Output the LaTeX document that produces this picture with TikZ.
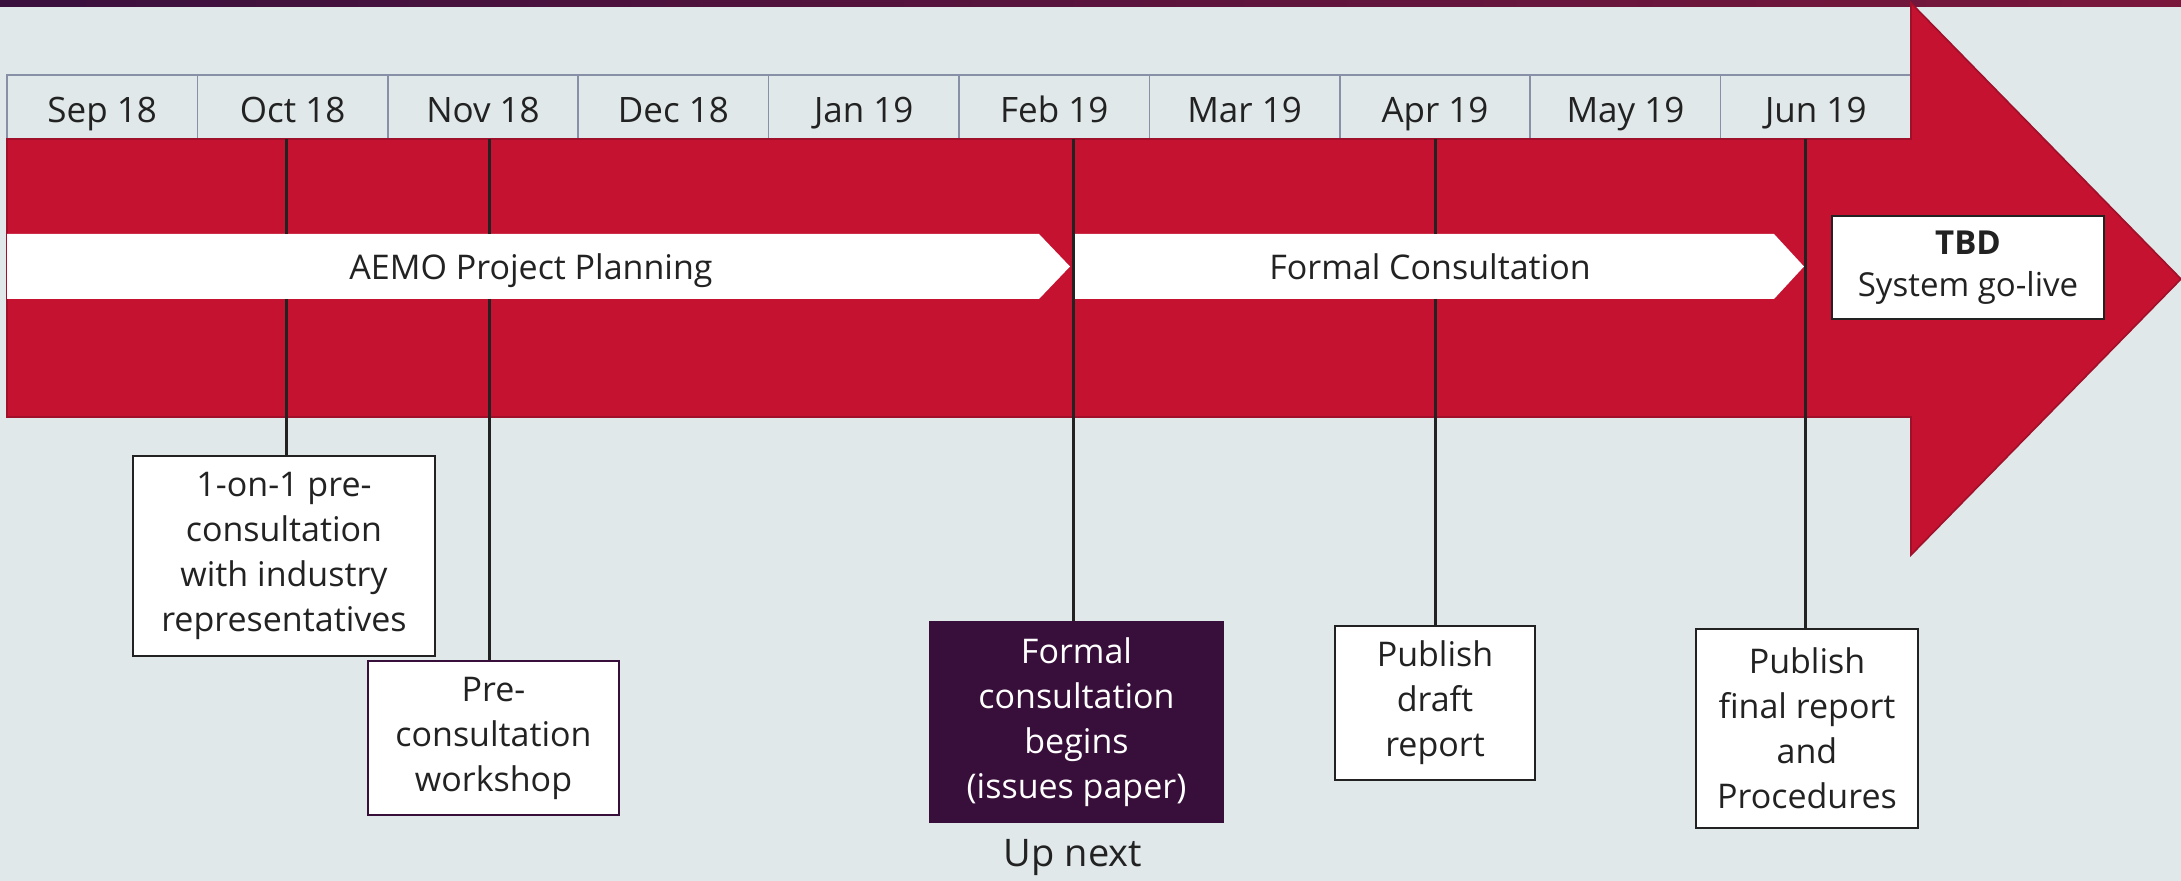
\documentclass[tikz,border=0pt]{standalone}
\usepackage{fontspec}
\setmainfont{Open Sans}
\usetikzlibrary{calc}

\definecolor{pagebg}{RGB}{224,232,234}
\definecolor{bandleft}{RGB}{58,16,62}
\definecolor{bandright}{RGB}{122,24,60}
\definecolor{arrowred}{RGB}{196,18,48}
\definecolor{arrowedge}{RGB}{160,16,42}
\definecolor{gridline}{RGB}{136,144,168}
\definecolor{inkdark}{RGB}{34,34,34}
\definecolor{plum}{RGB}{56,14,58}

\begin{document}
\begin{tikzpicture}[x=0.5pt,y=0.5pt,yscale=-1,xscale=1,
    month/.style={draw=gridline,line width=0.8,minimum width=95.2pt,minimum height=32pt,inner sep=0pt,text height=18pt,text depth=2.3pt,text=inkdark,font=\fontsize{17.5}{20}\selectfont},
    stem/.style={draw=inkdark,line width=1.5},
    phase/.style={inner sep=0pt,anchor=base,text=inkdark,font=\fontsize{17}{20}\selectfont},
    event/.style={draw=inkdark,fill=white,line width=1,inner sep=0pt,align=center,text=inkdark,font=\fontsize{17}{22.5}\selectfont},
    ]
    %Background
    \fill[pagebg] (0,0) rectangle (2181,881);
    \useasboundingbox (0,0) rectangle (2181,881);
    %Shape: Top band
    \shade[left color=bandleft,right color=bandright] (0,0) rectangle (2181,7);
    %Month header
    \foreach \mon [count=\i from 0] in {Sep 18,Oct 18,Nov 18,Dec 18,Jan 19,Feb 19,Mar 19,Apr 19,May 19,Jun 19}
        \node[month] (mon\i) at ({7+190.4*(\i+0.5)},107) {\mon};
    %Shape: Block arrow
    \filldraw[fill=arrowred,draw=arrowedge,line width=0.8] (7,139) -- (1911,139) -- (1911,3) -- (2181,279) -- (1911,555) -- (1911,417) -- (7,417) -- cycle ;
    %Milestone stems
    \coordinate (oct) at (286,139);
    \coordinate (nov) at (489,139);
    \coordinate (feb) at (1073,139);
    \coordinate (apr) at (1435,139);
    \coordinate (jun) at (1805,139);
    %Shape: Chevrons
    \fill[white] (7,234) -- (1039,234) -- (1070,266.5) -- (1039,299) -- (7,299) -- cycle ;
    \fill[white] (1075,234) -- (1774,234) -- (1804,266.5) -- (1774,299) -- (1075,299) -- cycle ;
    \node[phase] (planning) at (531,280) {AEMO Project Planning};
    \node[phase] (formal) at (1430,280) {Formal Consultation};
    %Events
    \node[event,minimum width=151pt,minimum height=100pt] (ev1) at (284,556) {1-on-1 pre-\\consultation\\with industry\\representatives};
    \node[event,draw=plum,minimum width=125.5pt,minimum height=77pt] (ev2) at (493.5,738) {Pre-\\consultation\\workshop};
    \node[event,draw=plum,fill=plum,text=white,minimum width=146.5pt,minimum height=100pt] (ev3) at (1076.5,722) {Formal\\consultation\\begins\\(issues paper)};
    \node[event,minimum width=100pt,minimum height=77pt] (ev4) at (1435,703) {Publish\\draft\\report};
    \node[event,minimum width=111pt,minimum height=99.5pt] (ev5) at (1807,728.5) {Publish\\final report\\and\\Procedures};
    \node[event,minimum width=136pt,minimum height=51.5pt,font=\fontsize{16.5}{21}\selectfont] (golive) at (1968,267.5) {\textbf{TBD}\\System go-live};
    \node[text=inkdark,font=\fontsize{19}{23}\selectfont] (upnext) at (1073,858) {Up next};
    %Straight Lines
    \draw[stem] (oct) -- (oct |- 0,234) ;
    \draw[stem] (nov) -- (nov |- 0,234) ;
    \draw[stem] (apr) -- (apr |- 0,234) ;
    \draw[stem] (oct |- 0,299) -- (oct |- ev1.north) ;
    \draw[stem] (nov |- 0,299) -- (nov |- ev2.north) ;
    \draw[stem] (apr |- 0,299) -- (apr |- ev4.north) ;
    \draw[stem] (feb) -- (feb |- ev3.north) ;
    \draw[stem] (jun) -- (jun |- ev5.north) ;
\end{tikzpicture}
\end{document}
